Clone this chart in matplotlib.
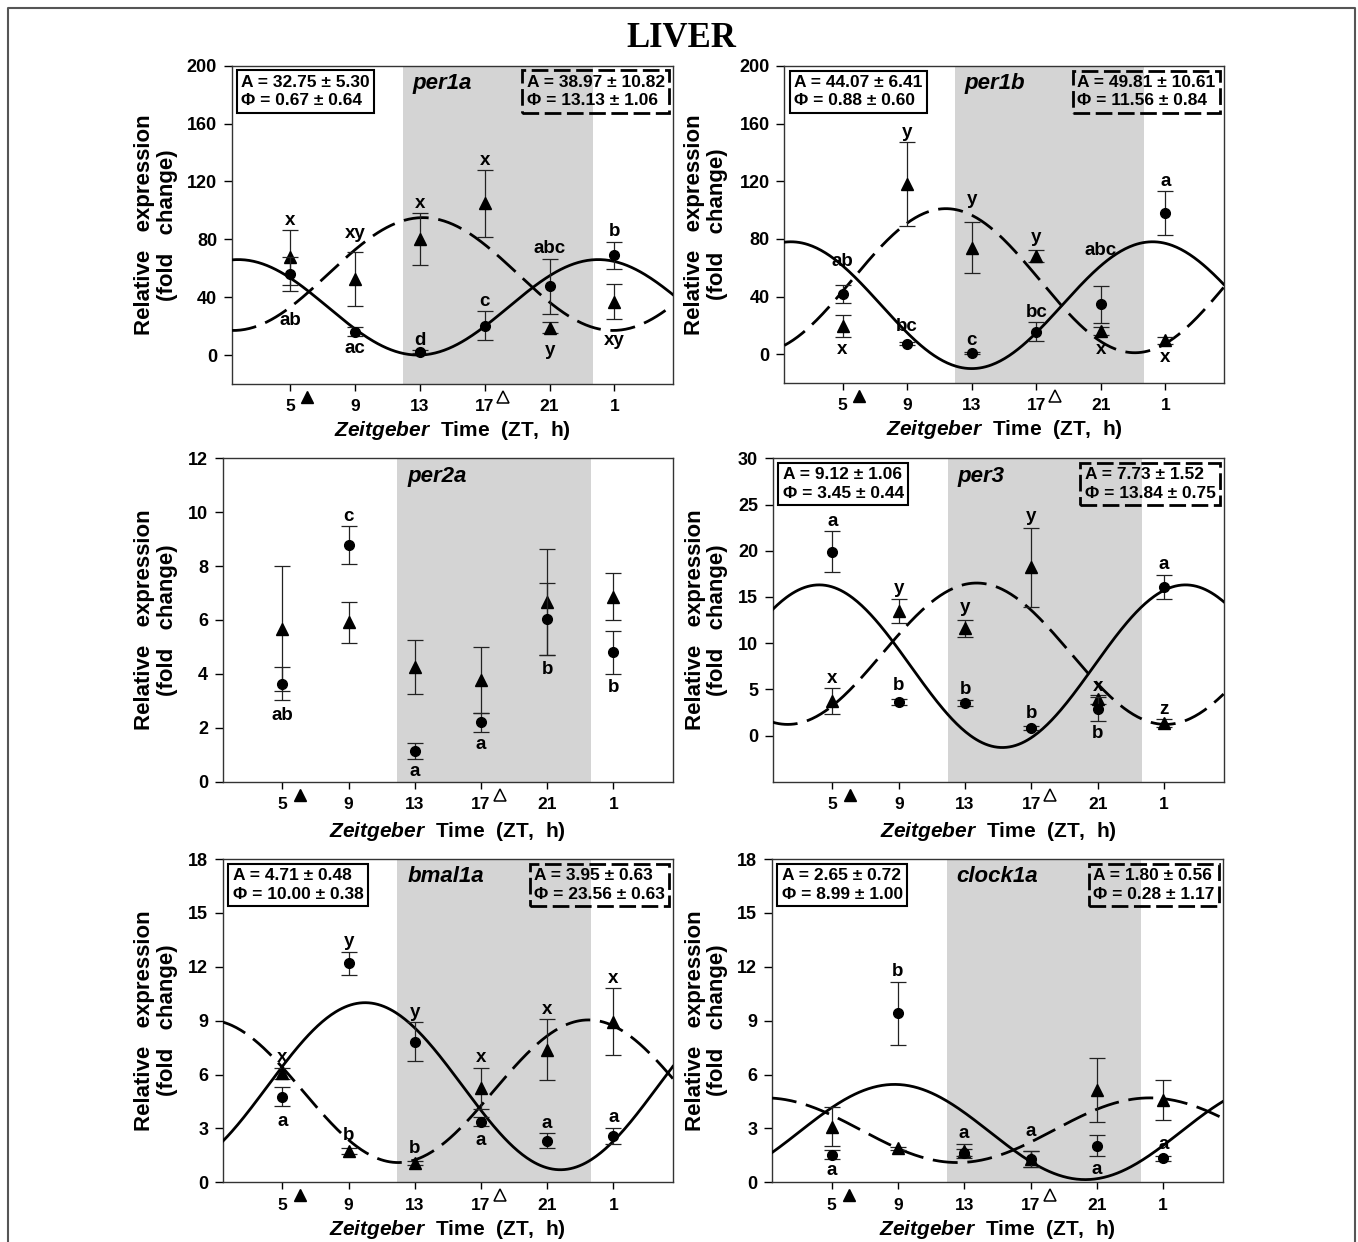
import numpy as np
import matplotlib.pyplot as plt
from matplotlib.lines import Line2D
from matplotlib.transforms import blended_transform_factory

plt.rcParams['font.family'] = ['Liberation Sans', 'DejaVu Sans']
plt.rcParams['font.weight'] = 'bold'
plt.rcParams['mathtext.fontset'] = 'custom'
plt.rcParams['mathtext.it'] = 'Liberation Sans:bold:italic'
plt.rcParams['mathtext.rm'] = 'Liberation Sans:bold'

# ---- data ----
zt = [5, 9, 13, 17, 21, 25]
zt_labels = ['5', '9', '13', '17', '21', '1']
dark_start, dark_end = 11.95, 23.65
arrow_on, arrow_off = 6.05, 18.15

per1a_circ = [56, 16.2, 2.3, 20.2, 47.6, 68.9]
per1a_circ_err = [12, 3, 1, 10, 19, 9.5]
per1a_tri = [67.5, 52.7, 80, 104.9, 19, 36.9]
per1a_tri_err = [19, 18.5, 18, 23, 4, 12]
per1a_circ_let = ['ab', 'ac', 'd', 'c', 'abc', 'b']
per1a_tri_let = ['x', 'xy', 'x', 'x', 'y', 'xy']
per1a_fit_circ = (33, 33, 24.0, 22.2)     # mesor, amplitude, peak ZT, period
per1a_fit_tri = (56, 39, 13.2, 23.4)
per1a_stats_circ = ('32.75 ± 5.30', '0.67 ± 0.64')
per1a_stats_tri = ('38.97 ± 10.82', '13.13 ± 1.06')

per1b_circ = [41.8, 7.4, 0.9, 15.5, 34.6, 97.9]
per1b_circ_err = [6, 1, 0.5, 6.5, 13, 15.3]
per1b_tri = [19.5, 118, 74, 68, 16, 9.7]
per1b_tri_err = [7.5, 29, 17.7, 4, 3, 2.5]
per1b_circ_let = ['ab', 'bc', 'c', 'bc', 'abc', 'a']
per1b_tri_let = ['x', 'y', 'y', 'y', 'x', 'x']
per1b_fit_circ = (34, 44, 24.2, 22.4)
per1b_fit_tri = (51, 50, 11.4, 23.4)
per1b_stats_circ = ('44.07 ± 6.41', '0.88 ± 0.60')
per1b_stats_tri = ('49.81 ± 10.61', '11.56 ± 0.84')

per2a_circ = [3.64, 8.78, 1.14, 2.2, 6.04, 4.8]
per2a_circ_err = [0.62, 0.7, 0.28, 0.34, 1.35, 0.79]
per2a_tri = [5.68, 5.91, 4.27, 3.77, 6.66, 6.87]
per2a_tri_err = [2.33, 0.75, 1.0, 1.22, 1.97, 0.88]
per2a_circ_let = ['ab', 'c', 'a', 'a', 'b', 'b']

per3_circ = [19.9, 3.64, 3.5, 0.83, 2.9, 16.1]
per3_circ_err = [2.2, 0.3, 0.3, 0.2, 1.3, 1.3]
per3_tri = [3.7, 13.5, 11.6, 18.2, 3.9, 1.37]
per3_tri_err = [1.4, 1.3, 0.9, 4.3, 0.5, 0.4]
per3_circ_let = ['a', 'b', 'b', 'b', 'b', 'a']
per3_tri_let = ['x', 'y', 'y', 'y', 'x', 'z']
per3_fit_circ = (7.5, 8.8, 4.2, 22.1)
per3_fit_tri = (8.85, 7.65, 13.7, 22.8)
per3_stats_circ = ('9.12 ± 1.06', '3.45 ± 0.44')
per3_stats_tri = ('7.73 ± 1.52', '13.84 ± 0.75')

bmal1a_circ = [4.77, 12.19, 7.83, 3.38, 2.32, 2.58]
bmal1a_circ_err = [0.53, 0.65, 1.1, 0.27, 0.42, 0.45]
bmal1a_tri = [6.07, 1.74, 1.06, 5.23, 7.37, 8.94]
bmal1a_tri_err = [0.3, 0.15, 0.1, 1.15, 1.7, 1.85]
bmal1a_circ_let = ['a', 'y', 'y', 'a', 'a', 'a']
bmal1a_tri_let = ['x', 'b', 'b', 'x', 'x', 'x']
bmal1a_fit_circ = (5.35, 4.65, 10.0, 23.6)
bmal1a_fit_tri = (5.07, 3.97, 23.5, 23.0)
bmal1a_stats_circ = ('4.71 ± 0.48', '10.00 ± 0.38')
bmal1a_stats_tri = ('3.95 ± 0.63', '23.56 ± 0.63')

clock1a_circ = [1.53, 9.41, 1.65, 1.3, 2.04, 1.34]
clock1a_circ_err = [0.25, 1.75, 0.2, 0.45, 0.6, 0.15]
clock1a_tri = [3.1, 1.89, 1.75, 1.3, 5.14, 4.58]
clock1a_tri_err = [1.1, 0.1, 0.4, 0.45, 1.77, 1.12]
clock1a_circ_let = ['a', 'b', 'a', 'a', 'a', 'a']
clock1a_fit_circ = (2.8, 2.65, 8.8, 23.0)
clock1a_fit_tri = (2.9, 1.8, 24.2, 23.2)
clock1a_stats_circ = ('2.65 ± 0.72', '8.99 ± 1.00')
clock1a_stats_tri = ('1.80 ± 0.56', '0.28 ± 1.17')

# ---- layout (pixels on a 1358 x 1242 canvas) ----
W, H = 1358, 1242
panels = [
    dict(gene='per1a', box=(231.6, 65.7, 672.9, 384), ylim=(-20, 200), yticks=range(0, 201, 40),
         circ=per1a_circ, circ_err=per1a_circ_err, tri=per1a_tri, tri_err=per1a_tri_err,
         circ_let=per1a_circ_let, circ_side='bbaaaa', circ_nudge=[-12, 0, 0, 0, 0, 0],
         tri_let=per1a_tri_let, tri_side='aaaabb', tri_nudge=[0, 6, 0, 0, -3, -6],
         fit_circ=per1a_fit_circ, fit_tri=per1a_fit_tri,
         stats_circ=per1a_stats_circ, stats_tri=per1a_stats_tri, ylab_x=-0.171, xlab_y=-0.162),
    dict(gene='per1b', box=(784.4, 66, 1223.6, 383), ylim=(-20, 200), yticks=range(0, 201, 40),
         circ=per1b_circ, circ_err=per1b_circ_err, tri=per1b_tri, tri_err=per1b_tri_err,
         circ_let=per1b_circ_let, circ_side='aaaaaa', circ_nudge=[10, 4, 1, 0, 18, 0],
         tri_let=per1b_tri_let, tri_side='baaabb', tri_nudge=[0, 0, 9, 2, -1, -1],
         fit_circ=per1b_fit_circ, fit_tri=per1b_fit_tri,
         stats_circ=per1b_stats_circ, stats_tri=per1b_stats_tri, ylab_x=-0.178, xlab_y=-0.165),
    dict(gene='per2a', box=(222.8, 458.3, 672.9, 781.7), ylim=(0, 12), yticks=range(0, 13, 2),
         circ=per2a_circ, circ_err=per2a_circ_err, tri=per2a_tri, tri_err=per2a_tri_err,
         circ_let=per2a_circ_let, circ_side='babbbb', circ_nudge=[-2, 0, 0, 0, -1, -1],
         tri_let=None, fit_circ=None, fit_tri=None, stats_circ=None, stats_tri=None,
         ylab_x=-0.148, xlab_y=-0.170),
    dict(gene='per3', box=(772.8, 458.3, 1223.6, 781.7), ylim=(-5, 30), yticks=range(0, 31, 5),
         circ=per3_circ, circ_err=per3_circ_err, tri=per3_tri, tri_err=per3_tri_err,
         circ_let=per3_circ_let, circ_side='aaaaba', circ_nudge=[0, 3, 1, 2, 0, 0],
         tri_let=per3_tri_let, tri_side='aaaaaa', tri_nudge=[0, 0, 2, 1, -1, 0],
         fit_circ=per3_fit_circ, fit_tri=per3_fit_tri,
         stats_circ=per3_stats_circ, stats_tri=per3_stats_tri, ylab_x=-0.1475, xlab_y=-0.170),
    dict(gene='bmal1a', box=(222.8, 859, 672.9, 1182.3), ylim=(0, 18), yticks=range(0, 19, 3),
         circ=bmal1a_circ, circ_err=bmal1a_circ_err, tri=bmal1a_tri, tri_err=bmal1a_tri_err,
         circ_let=bmal1a_circ_let, circ_side='baabaa', circ_nudge=[-2, 0, 0, -1, 0, 0],
         tri_let=bmal1a_tri_let, tri_side='aaaaaa', tri_nudge=[0, 2, 2, 0, 0, 0],
         fit_circ=bmal1a_fit_circ, fit_tri=bmal1a_fit_tri,
         stats_circ=bmal1a_stats_circ, stats_tri=bmal1a_stats_tri, ylab_x=-0.148, xlab_y=-0.162),
    dict(gene='clock1a', box=(771.8, 859, 1222.9, 1182.3), ylim=(0, 18), yticks=range(0, 19, 3),
         circ=clock1a_circ, circ_err=clock1a_circ_err, tri=clock1a_tri, tri_err=clock1a_tri_err,
         circ_let=clock1a_circ_let, circ_side='baaaba', circ_nudge=[1, 0, 4, 7, 0, 1],
         tri_let=None, fit_circ=clock1a_fit_circ, fit_tri=clock1a_fit_tri,
         stats_circ=clock1a_stats_circ, stats_tri=clock1a_stats_tri, ylab_x=-0.145, xlab_y=-0.162),
]


def cosinor(t, mesor, amp, peak, period):
    return mesor + amp * np.cos(2 * np.pi * (t - peak) / period)


def put_letters(ax, vals, errs, letters, sides, nudges):
    for x, v, e, s, side, nd in zip(zt, vals, errs, letters, sides, nudges):
        if side == 'a':
            ax.annotate(s, (x, v + e), xytext=(0, 1 + nd), textcoords='offset points',
                        ha='center', va='bottom', fontsize=13.5, fontweight='bold', zorder=6)
        else:
            ax.annotate(s, (x, v - e), xytext=(0, -3 + nd), textcoords='offset points',
                        ha='center', va='top', fontsize=13.5, fontweight='bold', zorder=6)


fig = plt.figure(figsize=(W / 100, H / 100), dpi=100)

for p in panels:
    x0, y0, x1, y1 = p['box']
    ax = fig.add_axes([x0 / W, 1 - y1 / H, (x1 - x0) / W, (y1 - y0) / H])
    ax.set_xlim(1.4, 28.6)
    ax.set_ylim(*p['ylim'])
    ax.axvspan(dark_start, dark_end, color='#d4d4d4', lw=0, zorder=0)

    t = np.linspace(1.4, 28.6, 300)
    if p['fit_circ'] is not None:
        ax.plot(t, cosinor(t, *p['fit_circ']), color='black', lw=2, zorder=3)
    if p['fit_tri'] is not None:
        ax.plot(t, cosinor(t, *p['fit_tri']), color='black', lw=2, dashes=(9, 3.5), zorder=3)

    ax.errorbar(zt, p['tri'], yerr=p['tri_err'], fmt='^', ms=8, color='black', ecolor='#222222',
                elinewidth=0.9, capsize=5.5, capthick=0.9, zorder=4)
    ax.errorbar(zt, p['circ'], yerr=p['circ_err'], fmt='o', ms=7, color='black', ecolor='#222222',
                elinewidth=0.9, capsize=5.5, capthick=0.9, zorder=5)

    put_letters(ax, p['circ'], p['circ_err'], p['circ_let'], p['circ_side'], p['circ_nudge'])
    if p['tri_let'] is not None:
        put_letters(ax, p['tri'], p['tri_err'], p['tri_let'], p['tri_side'], p['tri_nudge'])

    ax.set_xticks(zt)
    ax.set_xticklabels(zt_labels)
    ax.set_yticks(list(p['yticks']))
    ax.tick_params(axis='x', direction='out', length=5, width=1, labelsize=12.5, pad=6)
    ax.tick_params(axis='y', direction='out', length=6, width=1, labelsize=13, pad=4.5)
    for sp in ax.spines.values():
        sp.set_linewidth(1)
        sp.set_color('#333333')

    # light / dark arrows under the axis
    trans = blended_transform_factory(ax.transData, ax.transAxes)
    ax.plot([arrow_on], [-0.04], marker='^', ms=8, color='black', transform=trans, clip_on=False)
    ax.plot([arrow_off], [-0.04], marker='^', ms=8, mfc='white', mec='black', mew=1.1,
            transform=trans, clip_on=False)

    ax.text(0.41, 0.945, p['gene'], transform=ax.transAxes, fontsize=16, fontweight='bold',
            fontstyle='italic', ha='left', va='center', zorder=7)

    if p['stats_circ'] is not None:
        a, ph = p['stats_circ']
        ax.text(0.022, 0.972, f'A = {a}\nΦ = {ph}', transform=ax.transAxes, fontsize=12.5,
                ha='left', va='top', linespacing=1.3, zorder=7,
                bbox=dict(boxstyle='square,pad=0.25', fc='white', ec='black', lw=1.5))
        a, ph = p['stats_tri']
        ax.text(0.982, 0.972, f'A = {a}\nΦ = {ph}', transform=ax.transAxes, fontsize=12.5,
                ha='right', va='top', multialignment='left', linespacing=1.3, zorder=7,
                bbox=dict(boxstyle='square,pad=0.25', fc='none', ec='black', lw=2,
                          ls=(0, (6, 2))))

    ax.text(p['ylab_x'], 0.5, 'Relative   expression\n(fold   change)', transform=ax.transAxes,
            rotation=90, ha='center', va='center', multialignment='center', fontsize=16,
            linespacing=1.1)
    ax.text(0.5, p['xlab_y'], r'$\it{Zeitgeber}$  Time  (ZT,  h)', transform=ax.transAxes,
            ha='center', va='baseline', fontsize=15)

fig.text(0.5015, 1 - 38.3 / H, 'LIVER', family='Liberation Serif', fontweight='bold',
         fontsize=25, ha='center', va='center')

fig.add_artist(Line2D([8 / W, 8 / W, 1355 / W, 1355 / W], [0, 1 - 8 / H, 1 - 8 / H, 0],
                      transform=fig.transFigure, color='#555555', lw=1.5))

fig.savefig('out.png', dpi=100)
